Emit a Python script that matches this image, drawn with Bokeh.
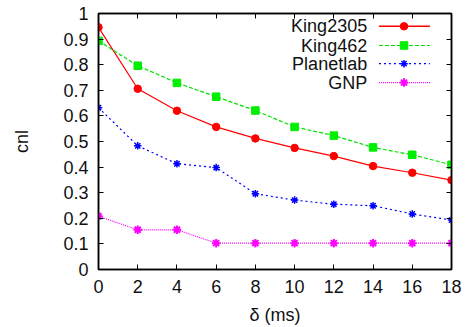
from bokeh.plotting import figure
from bokeh.models import Range1d, LinearAxis, FixedTicker, CustomJSTickFormatter
from bokeh.core.properties import value
from bokeh.embed import file_html
from bokeh.resources import INLINE

delta = [0, 2, 4, 6, 8, 10, 12, 14, 16, 18]
king2305 = [0.946, 0.706, 0.620, 0.557, 0.512, 0.475, 0.443, 0.404, 0.378, 0.349]
king462 = [0.893, 0.796, 0.729, 0.675, 0.621, 0.557, 0.523, 0.477, 0.448, 0.409]
planetlab = [0.632, 0.483, 0.413, 0.398, 0.296, 0.271, 0.255, 0.249, 0.217, 0.193]
gnp = [0.208, 0.155, 0.155, 0.103, 0.103, 0.103, 0.103, 0.103, 0.103, 0.103]
series_names = ["King2305", "King462", "Planetlab", "GNP"]
x_ticks = [0, 2, 4, 6, 8, 10, 12, 14, 16, 18]
y_ticks = [0, 0.1, 0.2, 0.3, 0.4, 0.5, 0.6, 0.7, 0.8, 0.9, 1]
x_title = "δ (ms)"
y_title = "cnl"

FONT = "Liberation Sans"
FS = "18px"
TXT = "#111111"
MS = 7.5

p = figure(width=469, height=327, output_backend="svg", toolbar_location=None,
           x_range=Range1d(0, 18), y_range=Range1d(0, 1),
           min_border_left=98, min_border_right=18, min_border_top=13, min_border_bottom=58)
p.background_fill_color = "white"
p.border_fill_color = "white"
p.outline_line_color = "black"
p.outline_line_width = 1.5
p.grid.visible = False

for ax in [p.xaxis[0], p.yaxis[0]]:
    ax.major_tick_in = 5
    ax.major_tick_out = 0
    ax.minor_tick_in = 0
    ax.minor_tick_out = 0
    ax.axis_line_color = "black"
    ax.axis_line_width = 1.5
    ax.major_label_text_font = FONT
    ax.major_label_text_font_size = FS
    ax.major_label_text_color = TXT
    ax.axis_label_text_font = FONT
    ax.axis_label_text_font_size = FS
    ax.axis_label_text_font_style = "normal"
    ax.axis_label_text_color = TXT
    ax.major_label_standoff = 10

p.xaxis[0].ticker = FixedTicker(ticks=x_ticks)
p.yaxis[0].ticker = FixedTicker(ticks=y_ticks)
p.yaxis[0].major_label_overrides = {1: "1", 0: "0"}
p.xaxis[0].axis_label = x_title
p.xaxis[0].axis_label_standoff = 9
p.yaxis[0].axis_label = y_title
p.yaxis[0].axis_label_standoff = 28

for loc, tk in [("right", y_ticks), ("above", x_ticks)]:
    a = LinearAxis(ticker=FixedTicker(ticks=tk), major_tick_in=5, major_tick_out=0,
                   minor_tick_in=0, minor_tick_out=0,
                   formatter=CustomJSTickFormatter(code="return ''"),
                   major_label_standoff=0, axis_line_color="black", axis_line_width=1.5)
    p.add_layout(a, loc)

# Series
p.line(delta, king2305, color="#ff0000", line_width=1.2)
p.scatter(delta, king2305, marker="circle", size=MS, color="#ff0000")

p.line(delta, king462, color="#00e000", line_width=1.2, line_dash="4 2")
p.scatter(delta, king462, marker="square", size=MS, color="#00ee00")

p.line(delta, planetlab, color="#0000ff", line_width=1.2, line_dash="2 3")
p.scatter(delta, planetlab, marker="asterisk", size=MS, line_color="#0000ff", line_width=1.5)

p.line(delta, gnp, color="#ff00ff", line_width=1.2, line_dash="1 1")
p.scatter(delta, gnp, marker="asterisk", size=MS + 1, line_color="#ff00ff", line_width=2)

# Manual legend (label left, sample right, like gnuplot)
leg_y = [0.950, 0.875, 0.804, 0.730]
leg_text_x = 13.7
leg_x0, leg_x1, leg_xm = 14.3, 16.9, 15.58
styles = [
    dict(color="#ff0000", dash="solid", marker="circle", lw=1.5, fill="#ff0000", mlw=1, size=MS),
    dict(color="#00e000", dash="4 2", marker="square", lw=1.2, fill="#00ee00", mlw=1, size=MS),
    dict(color="#0000ff", dash="2 3", marker="asterisk", lw=1.2, fill=None, mlw=1.5, size=MS),
    dict(color="#ff00ff", dash="1 1", marker="asterisk", lw=1.2, fill=None, mlw=2, size=MS + 1),
]
p.text([leg_text_x] * 4, leg_y, text=series_names, text_align="right", text_baseline="middle",
       text_font=value(FONT), text_font_size=FS, text_color=TXT)
for yv, st in zip(leg_y, styles):
    p.line([leg_x0, leg_x1], [yv, yv], color=st["color"], line_width=st["lw"], line_dash=st["dash"])
    if st["fill"]:
        p.scatter([leg_xm], [yv], marker=st["marker"], size=st["size"], color=st["fill"])
    else:
        p.scatter([leg_xm], [yv], marker=st["marker"], size=st["size"],
                  line_color=st["color"], line_width=st["mlw"])

open("out.html", "w").write(file_html(p, INLINE))
